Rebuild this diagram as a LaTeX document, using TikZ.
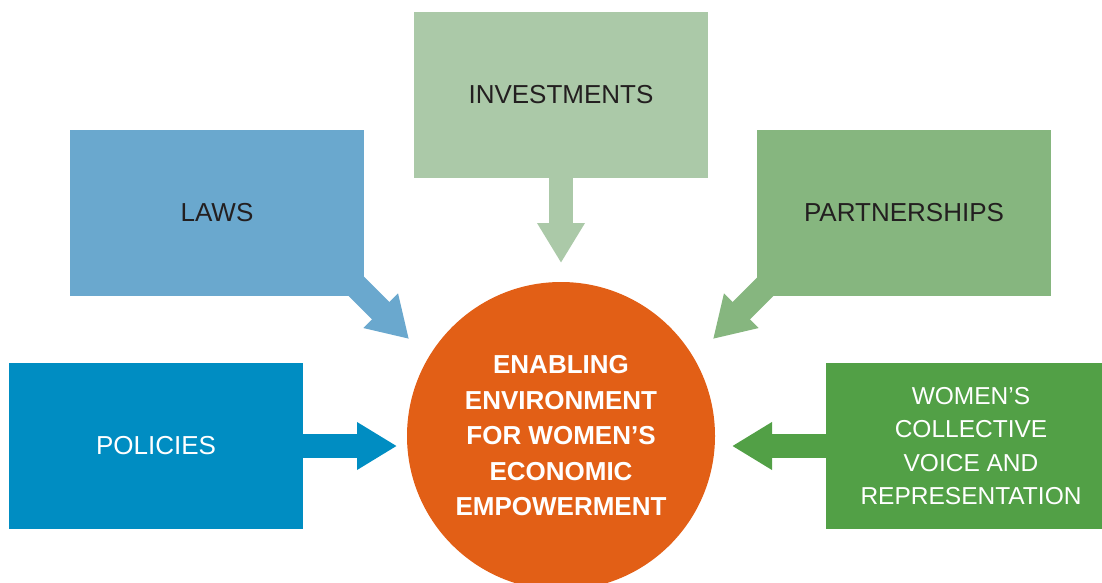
\documentclass[tikz,border=0pt]{standalone}
\usepackage{fontspec}
\setmainfont{Liberation Sans}
\usetikzlibrary{arrows.meta}
\definecolor{invC}{HTML}{ABC9A8}
\definecolor{lawC}{HTML}{6AA8CE}
\definecolor{parC}{HTML}{86B67F}
\definecolor{polC}{HTML}{008DC2}
\definecolor{womC}{HTML}{52A046}
\definecolor{cirC}{HTML}{E25F16}
\definecolor{txtC}{HTML}{231F20}
\pgfdeclarelayer{bg}
\pgfsetlayers{bg,main}
\tikzset{
  box/.style={rectangle, inner sep=0pt, minimum width=294pt, minimum height=166pt,
    align=center, font=\fontsize{26}{34}\selectfont},
  bigarrow/.style={line width=24.5pt, line cap=butt,
    -{Triangle[width=45pt,length=40pt]}},
  hub/.style={circle, inner sep=0pt, minimum size=308pt, fill=cirC, text=white,
    align=center, font=\bfseries\fontsize{26}{35.5}\selectfont}
}
\begin{document}
\begin{tikzpicture}[x=1pt,y=-1pt]
\useasboundingbox (0,0) rectangle (1102,583);
\clip (0,0) rectangle (1102,583);
\node[box, fill=invC, text=txtC] (inv) at (561,95) {INVESTMENTS};
\node[box, fill=lawC, text=txtC] (laws) at (217,213) {LAWS};
\node[box, fill=parC, text=txtC] (part) at (904,213) {PARTNERSHIPS};
\node[box, fill=polC, text=white] (pol) at (156,446) {POLICIES};
\node[box, fill=womC, text=white, minimum width=290pt, font=\fontsize{24.5}{33.6}\selectfont] (wom) at (971,446) {WOMEN’S\\COLLECTIVE\\VOICE AND\\REPRESENTATION};
\node[hub] (hub) at (561,436) {ENABLING\\ENVIRONMENT\\FOR WOMEN’S\\ECONOMIC\\EMPOWERMENT};
\coordinate (invtip) at (561,263);
\coordinate (polstip) at (397,446);
\coordinate (womtip) at (732,446);
\coordinate (lawstart) at (329,259);
\coordinate (lawtip) at (409,339);
\coordinate (partstart) at (793,259);
\coordinate (parttip) at (713,339);
\begin{pgfonlayer}{bg}
\draw[bigarrow, invC] (inv.center) -- (invtip);
\draw[bigarrow, polC] (pol.center) -- (polstip);
\draw[bigarrow, womC] (wom.center) -- (womtip);
\draw[bigarrow, lawC, -{Triangle[width=46pt,length=40pt]}] (lawstart) -- (lawtip);
\draw[bigarrow, parC, -{Triangle[width=46pt,length=40pt]}] (partstart) -- (parttip);
\end{pgfonlayer}
\end{tikzpicture}
\end{document}
